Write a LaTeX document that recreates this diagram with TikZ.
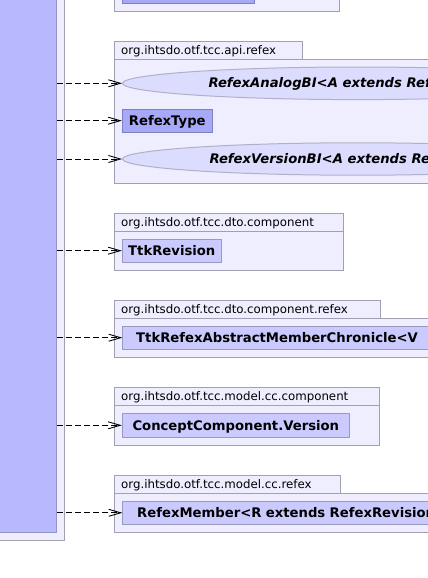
\documentclass[tikz,border=0pt]{standalone}
\usepackage{fontspec}
\setmainfont{DejaVu Sans}
\usetikzlibrary{arrows.meta,shapes.geometric}
\definecolor{pkgfill}{HTML}{EEEEFF}
\definecolor{pkgdraw}{HTML}{A0A0B4}
\definecolor{clsdark}{HTML}{A8A8F8}
\definecolor{clsdarkdraw}{HTML}{8080C0}
\definecolor{clslight}{HTML}{CACAFF}
\definecolor{clslightdraw}{HTML}{9898C0}
\definecolor{ellfill}{HTML}{DCDCFF}
\definecolor{elldraw}{HTML}{B0B0C8}
\definecolor{srcfill}{HTML}{B8B8FF}
\definecolor{srcdraw}{HTML}{9494C4}
\tikzset{
  pkg/.style={draw=pkgdraw,fill=pkgfill,line width=1pt},
  pkglabel/.style={anchor=base west,inner sep=0pt,font=\fontsize{11.8}{12}\selectfont},
  clsbase/.style={line width=1pt,inner ysep=0pt,text height=9.6pt,text depth=0pt,font=\fontsize{13.2}{14}\bfseries\selectfont},
  clsd/.style={clsbase,draw=clsdarkdraw,fill=clsdark},
  clsl/.style={clsbase,draw=clslightdraw,fill=clslight},
  iface/.style={ellipse,draw=elldraw,fill=ellfill,line width=1pt,inner sep=0pt},
  ifacelabel/.style={anchor=base west,inner sep=0pt,font=\fontsize{13.2}{14}\bfseries\itshape\selectfont},
  dep/.style={draw=black,line width=0.9pt,dash pattern=on 6pt off 3pt,-{Straight Barb[length=12pt,width=7pt,line width=0.9pt]}}
}
\begin{document}
\begin{tikzpicture}[x=1pt,y=-1pt]
\useasboundingbox (0,0) rectangle (428,578);
\clip (0,0) rectangle (428,578);
% source element
\node[draw=pkgdraw,fill=pkgfill,line width=1pt,minimum width=84.3pt,minimum height=560.3pt,inner sep=0pt] (srcframe) at (22.15,260.15) {};
\node[draw=srcdraw,fill=srcfill,line width=1pt,minimum width=76.7pt,minimum height=552.3pt,inner sep=0pt] (src) at (18.35,256.15) {};
% top cut package
\draw[pkg] (114.3,-5) rectangle (339.7,11.3);
\draw[line width=1pt,draw=clsdarkdraw,fill=clsdark] (122.3,-5) rectangle (254.7,3.3);
% package api.refex
\draw[pkg] (114.3,59.3) rectangle (440,183.3);
\draw[pkg] (114.3,41.3) rectangle (302.7,59.3);
\node[pkglabel] (l1) at (121,54.3) {org.ihtsdo.otf.tcc.api.refex};
\node[iface,minimum width=470pt,minimum height=32.6pt] (analog) at (357.5,83.3) {};
\node[ifacelabel] (analogt) at (208.3,87.9) {RefexAnalogBI<A extends Ref};
\node[clsd,minimum width=90pt,minimum height=23.3pt] (rtype) at (167.3,120.7) {RefexType};
\node[iface,minimum width=470pt,minimum height=32.4pt] (version) at (357.5,159) {};
\node[ifacelabel] (versiont) at (209.3,163.7) {RefexVersionBI<A extends Re};
% package dto.component
\draw[pkg] (114.3,231.7) rectangle (343.3,270.3);
\draw[pkg] (114.3,213.3) rectangle (343.3,231.7);
\node[pkglabel] (l2) at (121,226.5) {org.ihtsdo.otf.tcc.dto.component};
\node[clsl,minimum width=99pt,minimum height=23.3pt] (ttkrev) at (171.8,250.7) {TtkRevision};
% package dto.component.refex
\draw[pkg] (114.3,318) rectangle (440,357);
\draw[pkg] (114.3,300) rectangle (380.3,318);
\node[pkglabel] (l3) at (121,313) {org.ihtsdo.otf.tcc.dto.component.refex};
\node[clsl,anchor=west,inner xsep=13.4pt,text width=400pt,align=left,minimum height=23.3pt] (ttkchron) at (122.3,337.7) {TtkRefexAbstractMemberChronicle<V};
% package model.cc.component
\draw[pkg] (114.3,405.3) rectangle (379.3,445);
\draw[pkg] (114.3,387.3) rectangle (379.3,405.3);
\node[pkglabel] (l4) at (121,400.3) {org.ihtsdo.otf.tcc.model.cc.component};
\node[clsl,minimum width=227pt,minimum height=24pt] (ccver) at (235.8,425.3) {ConceptComponent.Version};
% package model.cc.refex
\draw[pkg] (114.3,493.3) rectangle (440,532.3);
\draw[pkg] (114.3,475.3) rectangle (340.3,493.3);
\node[pkglabel] (l5) at (121,488.3) {org.ihtsdo.otf.tcc.model.cc.refex};
\node[clsl,anchor=west,inner xsep=14.4pt,text width=400pt,align=left,minimum height=23pt] (rmember) at (122.3,512.8) {RefexMember<R extends RefexRevision};
% dependencies
\draw[dep] (src.east |- analog.west) -- (analog.west);
\draw[dep] (src.east |- rtype.west) -- (rtype.west);
\draw[dep] (src.east |- version.west) -- (version.west);
\draw[dep] (src.east |- ttkrev.west) -- (ttkrev.west);
\draw[dep] (src.east |- ttkchron.west) -- (ttkchron.west);
\draw[dep] (src.east |- ccver.west) -- (ccver.west);
\draw[dep] (src.east |- rmember.west) -- (rmember.west);
\end{tikzpicture}
\end{document}
